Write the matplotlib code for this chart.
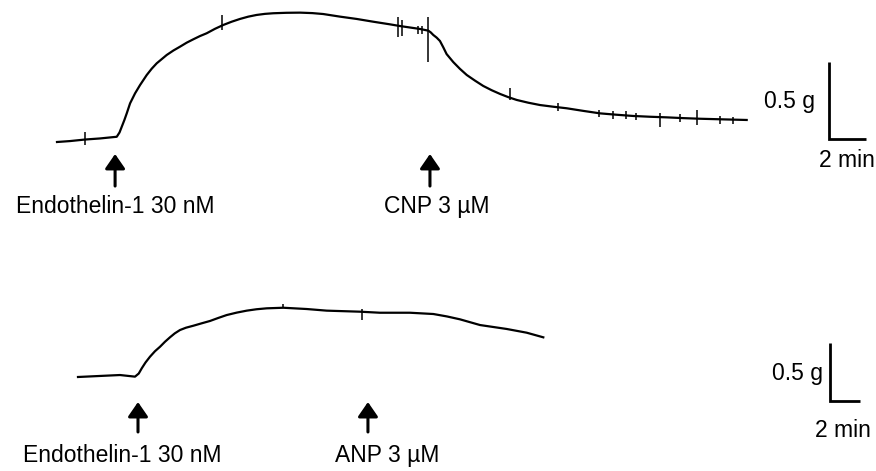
import matplotlib
matplotlib.use("Agg")
import matplotlib.pyplot as plt

plt.rcParams['font.family'] = ['Liberation Sans', 'DejaVu Sans']

# ---- Top recording (time in min, tension in g) ----
top_t = [0, 0.70, 1.51, 2.32, 3.23, 3.38, 3.50, 3.64, 3.77, 3.95, 4.22, 4.49, 4.85,
         5.12, 5.39, 5.93, 6.29, 6.65, 7.01, 7.37, 7.73, 8.09, 8.54, 8.99, 9.44,
         9.89, 10.34, 10.79, 11.24, 11.69, 12.40, 13.14, 13.80, 14.39, 15.30,
         16.20, 17.10, 18.00, 18.54, 19.62, 20.07, 20.20, 20.34, 20.52, 20.70,
         20.88, 21.06, 21.42, 21.78, 22.15, 22.60, 23.04, 23.50, 23.95, 24.40,
         24.85, 25.48, 26.11, 26.83, 27.55, 28.45, 29.35, 30.25, 31.15, 32.05,
         32.96, 33.86, 34.76, 36.00, 37.28]
top_g = [0, 0.006, 0.016, 0.023, 0.034, 0.062, 0.099, 0.142, 0.186, 0.251, 0.316,
         0.370, 0.435, 0.476, 0.511, 0.565, 0.594, 0.619, 0.645, 0.667, 0.688,
         0.706, 0.735, 0.760, 0.781, 0.799, 0.814, 0.825, 0.832, 0.836, 0.839,
         0.840, 0.837, 0.831, 0.814, 0.799, 0.781, 0.764, 0.753, 0.734, 0.723,
         0.712, 0.695, 0.678, 0.656, 0.615, 0.571, 0.519, 0.475, 0.435, 0.398,
         0.364, 0.336, 0.312, 0.291, 0.273, 0.255, 0.240, 0.229, 0.219, 0.202,
         0.186, 0.177, 0.169, 0.164, 0.160, 0.155, 0.151, 0.147, 0.143]
# artefact spikes: time, min g, max g
top_spike_t = [1.51, 8.92, 18.43, 18.65, 19.51, 19.73, 20.05, 24.49, 27.10,
               29.30, 30.05, 30.75, 31.30, 32.59, 33.70, 34.59, 35.84, 36.55]
top_spike_lo = [-0.019, 0.727, 0.68, 0.69, 0.70, 0.70, 0.52, 0.27, 0.20,
                0.16, 0.15, 0.15, 0.14, 0.10, 0.13, 0.11, 0.12, 0.12]
top_spike_hi = [0.065, 0.825, 0.81, 0.79, 0.75, 0.75, 0.81, 0.35, 0.25,
                0.21, 0.20, 0.20, 0.19, 0.19, 0.18, 0.21, 0.17, 0.16]

top_events_t = [3.14, 20.16]
top_labels = ["Endothelin-1 30 nM", "CNP 3 \u00b5M"]
top_label_t = [3.14, 20.54]

# ---- Bottom recording ----
bot_t = [0, 1.47, 2.80, 3.80, 4.05, 4.25, 4.50, 4.80, 5.13, 5.47, 5.80, 6.13,
         6.45, 6.80, 7.20, 7.69, 8.25, 8.80, 9.35, 9.91, 10.58, 11.25, 11.90,
         12.58, 13.69, 15.25, 16.58, 18.80, 20.13, 22.13, 23.69, 24.60, 25.47,
         26.80, 28.58, 29.91, 31.02]
bot_g = [0, 0.009, 0.017, 0.003, 0.030, 0.075, 0.125, 0.175, 0.222, 0.261, 0.304,
         0.342, 0.376, 0.405, 0.425, 0.442, 0.463, 0.483, 0.509, 0.534, 0.555,
         0.572, 0.584, 0.592, 0.597, 0.586, 0.572, 0.563, 0.554, 0.554, 0.543,
         0.522, 0.497, 0.448, 0.414, 0.382, 0.342]
bot_spike_t = [13.67, 18.93]
bot_spike_lo = [0.595, 0.49]
bot_spike_hi = [0.63, 0.59]

bot_events_t = [4.0, 19.33]
bot_labels = ["Endothelin-1 30 nM", "ANP 3 \u00b5M"]
bot_label_t = [2.93, 20.6]

W, H = 876, 471
fig = plt.figure(figsize=(W / 100, H / 100), dpi=100)

FS = 16.5
LW = 1.6


def panel(xmin, xmax, ymin, ymax, t, g, st, slo, shi, ev_t, labels, lab_t,
          arrow_lo, arrow_hi, label_y, sb_x, sb_y, sb_w, sb_h,
          g_lab_x, g_lab_y, min_lab_x, min_lab_y):
    ax = fig.add_axes([0, 0, 1, 1])
    ax.patch.set_alpha(0)
    ax.set_xlim(xmin, xmax)
    ax.set_ylim(ymin, ymax)
    ax.axis('off')
    ax.plot(t, g, color='black', lw=LW, solid_joinstyle='round')
    ax.vlines(st, slo, shi, color='black', lw=1.1)
    for et, lab, lt in zip(ev_t, labels, lab_t):
        ax.annotate("", xy=(et, arrow_hi), xytext=(et, arrow_lo),
                    arrowprops=dict(arrowstyle='-|>,head_length=0.55,head_width=0.38',
                                    mutation_scale=16, lw=2.2, color='black',
                                    shrinkA=0, shrinkB=0))
        ax.text(lt, label_y, lab, ha='center', va='center', fontsize=FS)
    ax.plot([sb_x, sb_x, sb_x + sb_w], [sb_y + sb_h, sb_y, sb_y],
            color='black', lw=2.0, solid_capstyle='butt', solid_joinstyle='miter')
    ax.text(g_lab_x, g_lab_y, "0.5 g", ha='right', va='center', fontsize=FS)
    ax.text(min_lab_x, min_lab_y, "2 min", ha='center', va='center', fontsize=FS)
    return ax


# top: 18.5 px/min, 154 px/g, origin at pixel (57,142)
panel(-57 / 18.5, (W - 57) / 18.5, (142 - H) / 154, 142 / 154,
      top_t, top_g, top_spike_t, top_spike_lo, top_spike_hi,
      top_events_t, top_labels, top_label_t,
      -0.286, -0.078, -0.422,
      41.73, 0.019, 2.0, 0.5,
      40.97, 0.26, 42.7, -0.117)

# bottom: 15 px/min, 116 px/g, origin at pixel (78,377)
panel(-78 / 15, (W - 78) / 15, (377 - H) / 116, 377 / 116,
      bot_t, bot_g, bot_spike_t, bot_spike_lo, bot_spike_hi,
      bot_events_t, bot_labels, bot_label_t,
      -0.474, -0.216, -0.681,
      50.13, -0.207, 2.0, 0.5,
      49.67, 0.034, 51.0, -0.457)

fig.savefig("out.png", dpi=100)
